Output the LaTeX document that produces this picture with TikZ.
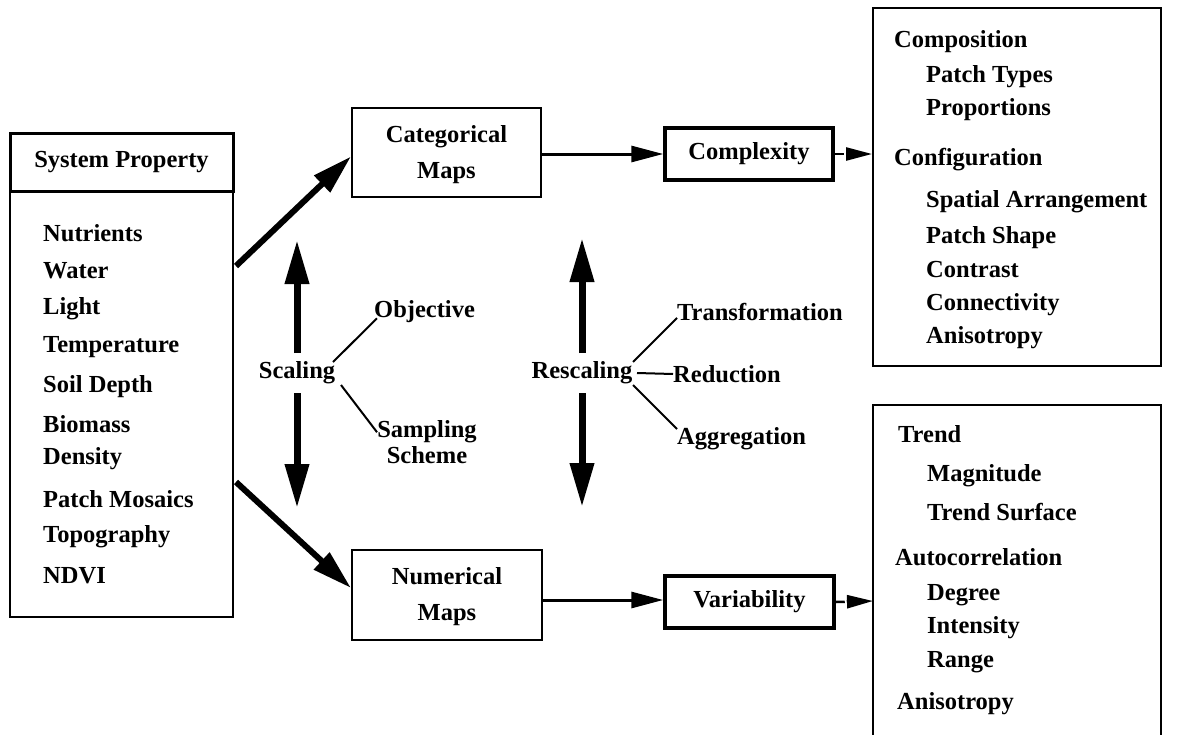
\documentclass[tikz,border=0pt]{standalone}
\usepackage{fontspec}
\setmainfont{Liberation Serif}
\usetikzlibrary{arrows.meta}
\tikzset{
  txt/.style={font=\fontsize{24.5}{28}\selectfont\bfseries, inner sep=0pt},
  lbl/.style={txt, anchor=west},
  plainbox/.style={draw, line width=2pt, txt, align=center},
  heavybox/.style={draw, line width=3.5pt, txt, align=center},
  flowarrow/.style={line width=3pt, -{Triangle[length=32pt,width=16pt]}},
  diagarrow/.style={line width=6pt, -{Triangle[length=40pt,width=22pt]}},
  vertarrow/.style={line width=7pt, -{Triangle[length=44pt,width=23pt]}},
  stub/.style={line width=2.5pt, dash pattern=on 9pt off 2pt, -{Triangle[length=26pt,width=13pt]}},
  twig/.style={line width=2pt}
}
\begin{document}
\begin{tikzpicture}[x=1pt,y=-1pt]
\useasboundingbox[fill=white] (0,0) rectangle (1178,734);

% left column
\node[draw, line width=3pt, txt, minimum width=223pt, minimum height=58pt] (head) at (121.5,162) {System Property};
\node[draw, line width=2pt, minimum width=223pt, minimum height=425pt, inner sep=0pt] (sys) at (121.5,404.5) {};
\node[lbl] (n1) at (43,233) {Nutrients};
\node[lbl] (n2) at (43,271) {Water};
\node[lbl] (n3) at (43,309) {Light};
\node[lbl] (n4) at (43,347) {Temperature};
\node[lbl] (n5) at (43,387) {Soil Depth};
\node[lbl] (n6) at (43,424) {Biomass};
\node[lbl] (n7) at (43,459) {Density};
\node[lbl] (n8) at (43,499) {Patch Mosaics};
\node[lbl] (n9) at (43,537) {Topography};
\node[lbl] (n10) at (43,576) {NDVI};

% map boxes
\node[plainbox, minimum width=189pt, minimum height=89pt, font=\fontsize{24.5}{36}\selectfont\bfseries, text depth=2pt] (cat) at (446.5,152.5) {Categorical\\Maps};
\node[plainbox, minimum width=190pt, minimum height=90pt, font=\fontsize{24.5}{36}\selectfont\bfseries, text depth=2pt] (num) at (447,595) {Numerical\\Maps};

% measure boxes
\node[heavybox, minimum width=168pt, minimum height=52pt] (cx) at (749,154) {Complexity};
\node[heavybox, minimum width=169pt, minimum height=52pt] (var) at (749.5,602) {Variability};

% right boxes
\node[draw, line width=2pt, minimum width=288pt, minimum height=358pt, inner sep=0pt] (rtop) at (1017,187) {};
\coordinate (rbtl) at (873,405);
\coordinate (rbtr) at (1161,405);
\draw[line width=2pt] (873,740) -- (rbtl) -- (rbtr) -- (1161,740);
\coordinate (rbin) at (873,601);

\node[lbl] at (894,42) {Composition};
\node[lbl] at (926,77) {Patch Types};
\node[lbl] at (926,110) {Proportions};
\node[lbl] at (894,160) {Configuration};
\node[lbl] at (926,202) {Spatial Arrangement};
\node[lbl] at (926,238) {Patch Shape};
\node[lbl] at (926,270) {Contrast};
\node[lbl] at (926,305) {Connectivity};
\node[lbl] at (926,338) {Anisotropy};

\node[lbl] at (898,434) {Trend};
\node[lbl] at (927,476) {Magnitude};
\node[lbl] at (927,512) {Trend Surface};
\node[lbl] at (895,557) {Autocorrelation};
\node[lbl] at (927,595) {Degree};
\node[lbl] at (927,628) {Intensity};
\node[lbl] at (927,662) {Range};
\node[lbl] at (897,704) {Anisotropy};

% scaling
\node[txt] (scal) at (297,373) {Scaling};
\node[lbl] (obj) at (374,312) {Objective};
\node[txt, align=center, font=\fontsize{24.5}{26}\selectfont\bfseries] (samp) at (427,442) {Sampling\\Scheme};
\coordinate (sup) at (297,240);
\coordinate (sdn) at (297,508);
\draw[vertarrow] (297,353) -- (sup);
\draw[vertarrow] (297,393) -- (sdn);
\draw[twig] (333,362) -- ([shift={(3pt,5pt)}]obj.south west);
\draw[twig] (341,385) -- ([shift={(-50pt,-12pt)}]samp.north);

% rescaling
\node[txt] (resc) at (582,373) {Rescaling};
\node[lbl] (trf) at (677,312) {Transformation};
\node[lbl] (red) at (673,374) {Reduction};
\node[lbl] (agg) at (677,439) {Aggregation};
\coordinate (rup) at (582,238);
\coordinate (rdn) at (582,507);
\draw[vertarrow] (582,353) -- (rup);
\draw[vertarrow] (582,393) -- (rdn);
\draw[twig] (633,362) -- ([yshift=3pt]trf.south west);
\draw[twig] (637,373) -- (red.west);
\draw[twig] (633,385) -- ([yshift=10pt]agg.west);

% flow arrows
\draw[diagarrow] (236,266) -- ([yshift=-4pt]cat.west);
\draw[diagarrow] (236,482) -- ([yshift=7pt]num.west);
\draw[flowarrow] (cx.west -| cat.east) -- (cx.west);
\draw[flowarrow] ([yshift=2pt]var.west -| num.east) -- ([yshift=2pt]var.west);
\draw[stub] (cx.east) -- (rtop.west |- cx.east);
\draw[stub] (var.east) -- (rbin);
\end{tikzpicture}
\end{document}
